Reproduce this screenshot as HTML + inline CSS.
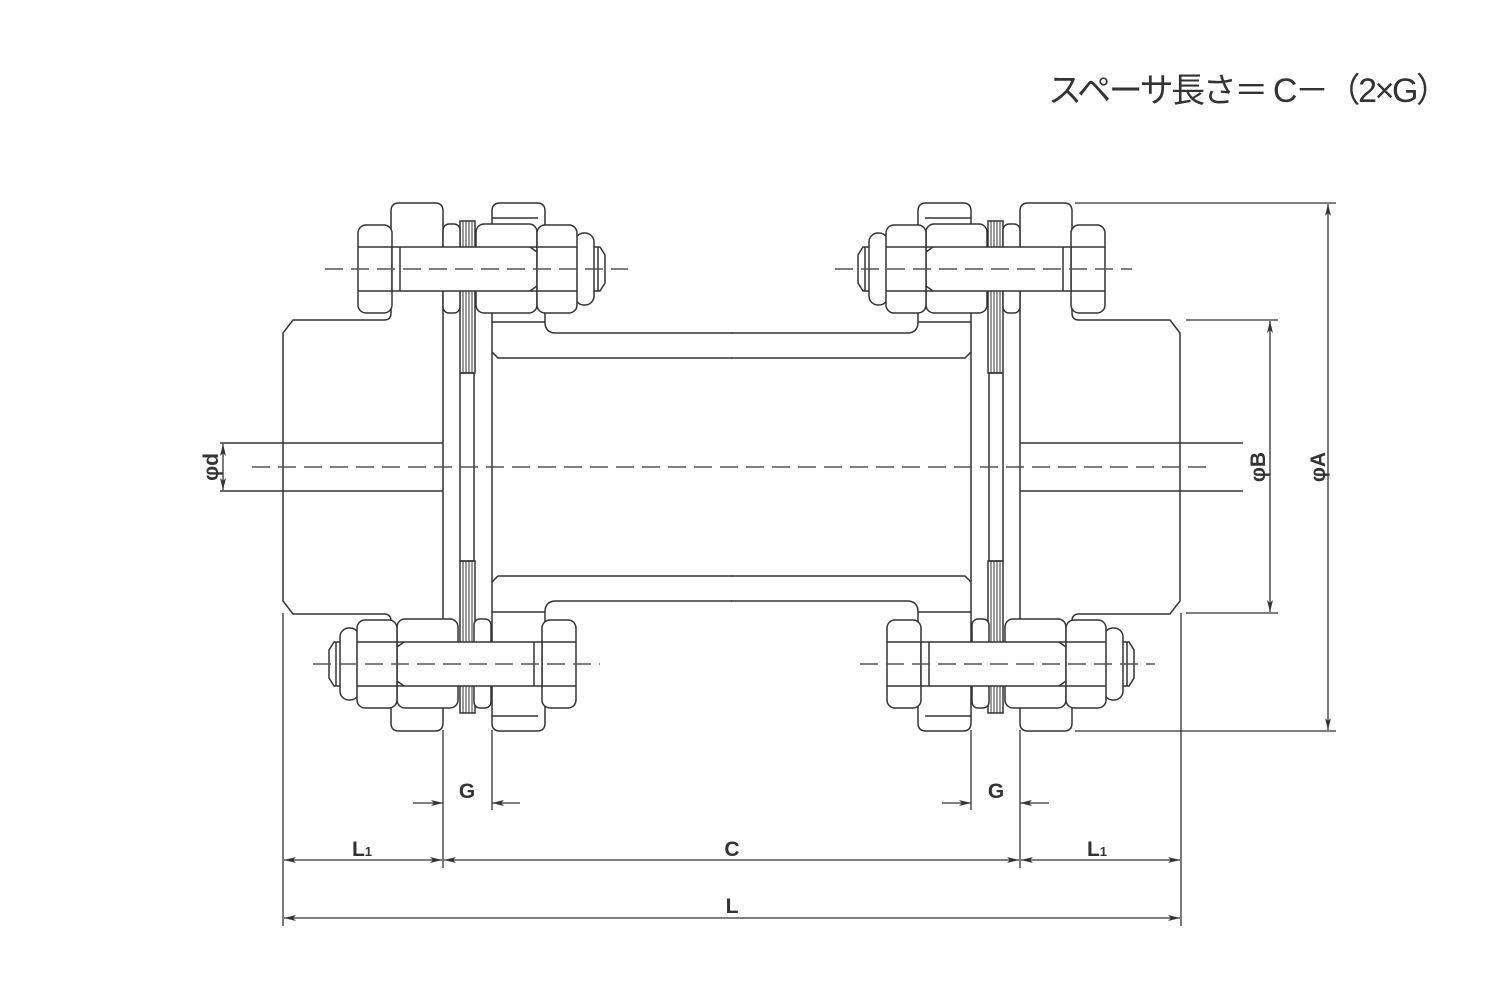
<!DOCTYPE html>
<html><head><meta charset="utf-8"><style>
html,body{margin:0;padding:0;background:#fff;}
svg{display:block}
text{font-family:"Liberation Sans","Noto Sans CJK JP",sans-serif;fill:#333}
.d{font-weight:bold;font-size:21px}
</style></head><body>
<svg width="1500" height="1000" viewBox="0 0 1500 1000" xmlns="http://www.w3.org/2000/svg">
<defs>
<marker id="ar" viewBox="0 0 12 6" refX="12" refY="3" markerWidth="12" markerHeight="6" orient="auto-start-reverse" markerUnits="userSpaceOnUse">
<path d="M0,0 L12,3 L0,6 L3,3 Z" fill="#333"/>
</marker>
<g id="body" fill="none" stroke="#333" stroke-width="1.5">
  <line x1="220" y1="443" x2="443" y2="443"/>
  <path d="M283,467 L283,333 L293,320 L384,320 Q391,320 391,313 L391,211 Q391,203 399,203 L435,203 Q443,203 443,211 L443,467"/>
  <path d="M492,467 L492,211 Q492,203 500,203 L537,203 Q545,203 545,211 L545,322 Q545,333 556,333 L732,333"/>
  <line x1="492" y1="218" x2="538" y2="218"/>
  <line x1="492" y1="322" x2="545" y2="322"/>
  <path d="M492,352 L498,358 L732,358"/>
  <rect x="460" y="221" width="15" height="152" fill="#fff"/>
  <path d="M463,221V373M466,221V373M469,221V373M472,221V373" stroke-width="1"/>
  <path d="M460,373 L460,467 M474,373 L474,467"/>
  <line x1="460" y1="373" x2="474" y2="373"/>
</g>
<g id="bolt" stroke="#333" stroke-width="1.5" fill="#fff">
  <rect x="443" y="224" width="17" height="89" rx="6"/>
  <rect x="476" y="224" width="61" height="89" rx="8"/>
  <rect x="358" y="225" width="34" height="88" rx="8"/>
  <path d="M358,247H392M358,291H392" fill="none"/>
  <rect x="392" y="247" width="145" height="44"/>
  <line x1="400" y1="247" x2="400" y2="291"/>
  <path d="M593,247 L600,247 L605,255 L605,283 L600,291 L593,291 Z"/>
  <line x1="598" y1="247" x2="598" y2="291"/>
  <rect x="575" y="233" width="19" height="72" rx="9"/>
  <rect x="537" y="225" width="40" height="88" rx="8"/>
  <path d="M537,247H577M537,291H577M530,247 L537,252 M530,291 L537,286" fill="none"/>
</g>
</defs>

<text x="1048" y="102" font-size="34" textLength="402" lengthAdjust="spacing">スペーサ長さ＝ C－（2×G）</text>

<use href="#body"/>
<use href="#body" transform="matrix(-1,0,0,1,1463,0)"/>
<use href="#body" transform="matrix(1,0,0,-1,0,934)"/>
<use href="#body" transform="matrix(-1,0,0,-1,1463,934)"/>

<use href="#bolt"/>
<use href="#bolt" transform="matrix(-1,0,0,1,1463,0)"/>
<use href="#bolt" transform="matrix(-1,0,0,1,934,395)"/>
<use href="#bolt" transform="translate(529,395)"/>

<g stroke="#555" stroke-width="1.5" fill="none" stroke-dasharray="18,8">
  <line x1="252" y1="467" x2="1210" y2="467"/>
  <line x1="325" y1="269" x2="628" y2="269"/>
  <line x1="835" y1="269" x2="1132" y2="269"/>
  <line x1="313" y1="664" x2="600" y2="664"/>
  <line x1="860" y1="664" x2="1155" y2="664"/>
</g>

<g stroke="#333" stroke-width="1.3" fill="none">
  <line x1="283" y1="613" x2="283" y2="926"/>
  <line x1="1181" y1="613" x2="1181" y2="926"/>
  <line x1="443" y1="730" x2="443" y2="868"/>
  <line x1="1020" y1="730" x2="1020" y2="868"/>
  <line x1="492" y1="730" x2="492" y2="810"/>
  <line x1="971" y1="730" x2="971" y2="810"/>
  <line x1="1075" y1="203" x2="1336" y2="203"/>
  <line x1="1075" y1="731" x2="1336" y2="731"/>
  <line x1="1186" y1="320" x2="1278" y2="320"/>
  <line x1="1186" y1="613" x2="1278" y2="613"/>
</g>

<g stroke="#333" stroke-width="1.3" fill="none">
  <line x1="223" y1="444" x2="223" y2="490" marker-start="url(#ar)" marker-end="url(#ar)"/>
  <line x1="1270" y1="321" x2="1270" y2="612" marker-start="url(#ar)" marker-end="url(#ar)"/>
  <line x1="1328" y1="204" x2="1328" y2="730" marker-start="url(#ar)" marker-end="url(#ar)"/>
  <line x1="413" y1="803" x2="443" y2="803" marker-end="url(#ar)"/>
  <line x1="520" y1="803" x2="492" y2="803" marker-end="url(#ar)"/>
  <line x1="942" y1="803" x2="971" y2="803" marker-end="url(#ar)"/>
  <line x1="1049" y1="803" x2="1020" y2="803" marker-end="url(#ar)"/>
  <line x1="284" y1="860" x2="442" y2="860" marker-start="url(#ar)" marker-end="url(#ar)"/>
  <line x1="444" y1="860" x2="1019" y2="860" marker-start="url(#ar)" marker-end="url(#ar)"/>
  <line x1="1021" y1="860" x2="1180" y2="860" marker-start="url(#ar)" marker-end="url(#ar)"/>
  <line x1="284" y1="918" x2="1180" y2="918" marker-start="url(#ar)" marker-end="url(#ar)"/>
</g>

<text class="d" transform="translate(218,467) rotate(-90)" text-anchor="middle">φd</text>
<text class="d" transform="translate(1265,467) rotate(-90)" text-anchor="middle">φB</text>
<text class="d" transform="translate(1325,467) rotate(-90)" text-anchor="middle">φA</text>
<text class="d" x="467" y="798" text-anchor="middle">G</text>
<text class="d" x="996" y="798" text-anchor="middle">G</text>
<text class="d" x="362" y="856" text-anchor="middle">L<tspan font-size="13">1</tspan></text>
<text class="d" x="732" y="856" text-anchor="middle">C</text>
<text class="d" x="1097" y="856" text-anchor="middle">L<tspan font-size="13">1</tspan></text>
<text class="d" x="732" y="913" text-anchor="middle">L</text>
</svg>
</body></html>
